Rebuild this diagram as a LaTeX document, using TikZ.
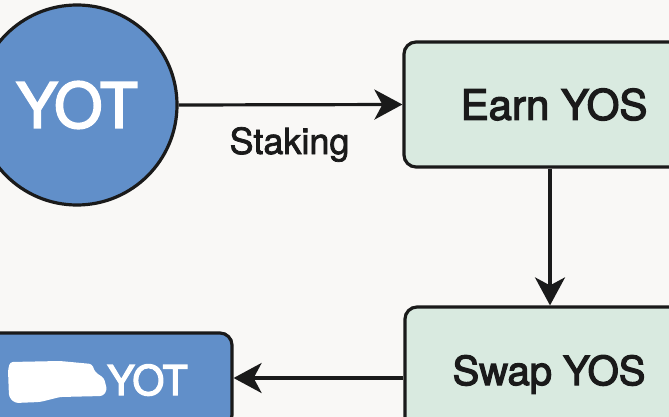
\documentclass[tikz,border=0pt]{standalone}
\usepackage{fontspec}
\setmainfont{TeX Gyre Heros}
\newfontfamily\medfont[FakeBold=3]{TeX Gyre Heros}
\newfontfamily\smfont[FakeBold=2]{TeX Gyre Heros}
\usetikzlibrary{arrows.meta}
\definecolor{bg}{HTML}{F9F8F6}
\definecolor{blu}{HTML}{618FC9}
\definecolor{grn}{HTML}{D9EAE0}
\definecolor{ink}{HTML}{1A1A1A}
\begin{document}
\begin{tikzpicture}[x=1pt,y=-1pt,
  arr/.style={draw=ink,line width=3.2pt,-{Stealth[length=28pt,width=30pt,inset=8pt]}},
  greenbox/.style={draw=ink,line width=3.2pt,fill=grn,rounded corners=12pt,text=ink,inner sep=0pt},
  bluebox/.style={draw=ink,line width=3.2pt,fill=blu,rounded corners=12pt,inner sep=0pt},
  bluecirc/.style={circle,draw=ink,line width=3.2pt,fill=blu,text=white,inner sep=0pt}]
\useasboundingbox (0,0) rectangle (669,417);
\clip (0,0) rectangle (669,417);
\fill[bg] (0,0) rectangle (669,417);
\node[bluecirc, minimum size=200pt] (yot) at (77,105) {\fontsize{62}{62}\medfont YOT};
\node[greenbox, minimum width=300pt, minimum height=125pt] (earn) at (554,104.5) {\fontsize{42}{42}\medfont Earn YOS};
\node[greenbox, minimum width=288pt, minimum height=128pt, text height=28pt, text depth=0pt] (swap) at (549,371) {\fontsize{40}{40}\medfont Swap YOS};
\node[bluebox, minimum width=272pt, minimum height=94pt] (yotb) at (96,380) {};
\node[anchor=base, text=white, inner sep=0pt] (yotlbl) at (147.5,395) {\fontsize{41}{41}\medfont YOT};
\fill[white, rounded corners=3pt] (10,362) -- (60,361) -- (92,364) -- (95,372) -- (104,378) -- (107,390) -- (103,396) -- (60,397) -- (40,402) -- (15,403) -- (9,397) -- (8,370) -- cycle;
\node[anchor=base, text=ink, inner sep=0pt] (stk) at (289.5,154) {\fontsize{36}{36}\smfont Staking};
\coordinate (vx) at (550,0);
\coordinate (hy) at (0,378);
\draw[arr] (yot.east) -- (earn.west);
\draw[arr] (earn.south -| vx) -- (swap.north -| vx);
\draw[arr] (swap.west |- hy) -- (yotb.east |- hy);
\end{tikzpicture}
\end{document}
